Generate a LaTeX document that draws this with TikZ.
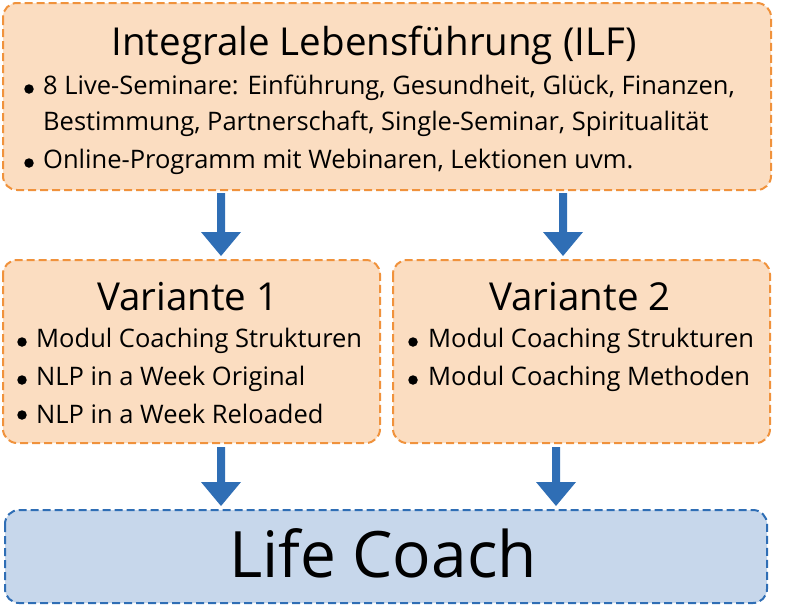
\documentclass[tikz,border=0pt]{standalone}
\usepackage{fontspec}
\setmainfont{Open Sans}
\usetikzlibrary{shapes.arrows}
\definecolor{peach}{HTML}{FBDDC1}
\definecolor{orng}{HTML}{F0923C}
\definecolor{lblue}{HTML}{C7D7EB}
\definecolor{dblue}{HTML}{2F6EB5}
\tikzset{
 obox/.style={draw=orng,fill=peach,line width=2pt,dash pattern=on 8pt off 4pt,rounded corners=14pt},
 bbox/.style={draw=dblue,fill=lblue,line width=2pt,dash pattern=on 8pt off 4pt,rounded corners=14pt},
 blk/.style={fill=dblue,draw=none},
 btxt/.style={anchor=west,inner sep=0pt,font=\fontsize{25.5}{30}\selectfont},
 ttl/.style={inner sep=0pt,font=\fontsize{38.5}{44}\selectfont},
 dotn/.style={circle,fill=black,inner sep=0pt,minimum size=9.5pt}
}
\begin{document}
\begin{tikzpicture}[x=1pt,y=-1pt]
\useasboundingbox (0,0) rectangle (800,605);
\draw[obox] (3,3) rectangle (771,190);
\draw[obox] (3,260) rectangle (380,443);
\draw[obox] (393,260) rectangle (770,443);
\draw[bbox] (5,510) rectangle (767,603);
\node[ttl] (t1) at (374,45) {Integrale Lebensführung (ILF)};
\node[dotn] (d1) at (29,89) {};
\node[btxt] (b1) at (43,88) {8 Live-Seminare: Einführung, Gesundheit, Glück, Finanzen,};
\node[btxt] (b1b) at (43,124) {Bestimmung, Partnerschaft, Single-Seminar, Spiritualität};
\node[dotn] (d2) at (29,163) {};
\node[btxt] (b2) at (43,162) {Online-Programm mit Webinaren, Lektionen uvm.};
\node[ttl] (t3a) at (188,297) {Variante 1};
\node[dotn] (d3) at (22,342) {};
\node[btxt] (v11) at (36,341) {Modul Coaching Strukturen};
\node[dotn] (d4) at (22,380) {};
\node[btxt] (v12) at (36,379) {NLP in a Week Original};
\node[dotn] (d5) at (22,415) {};
\node[btxt] (v13) at (36,414) {NLP in a Week Reloaded};
\node[ttl] (t3) at (580,297) {Variante 2};
\node[dotn] (d6) at (413,342) {};
\node[btxt] (v21) at (428,341) {Modul Coaching Strukturen};
\node[dotn] (d7) at (413,380) {};
\node[btxt] (v22) at (428,379) {Modul Coaching Methoden};
\node[inner sep=0pt,font=\fontsize{64}{70}\selectfont] (lc) at (383,553) {Life Coach};
\foreach \x/\a/\b in {221/193/256, 563/193/256, 221/447/506, 556/447/506}{
 \fill[blk] (\x-4,\a) -- (\x+4,\a) -- (\x+4,\b-24) -- (\x+20,\b-24) -- (\x,\b) -- (\x-20,\b-24) -- (\x-4,\b-24) -- cycle;
}
\end{tikzpicture}
\end{document}
